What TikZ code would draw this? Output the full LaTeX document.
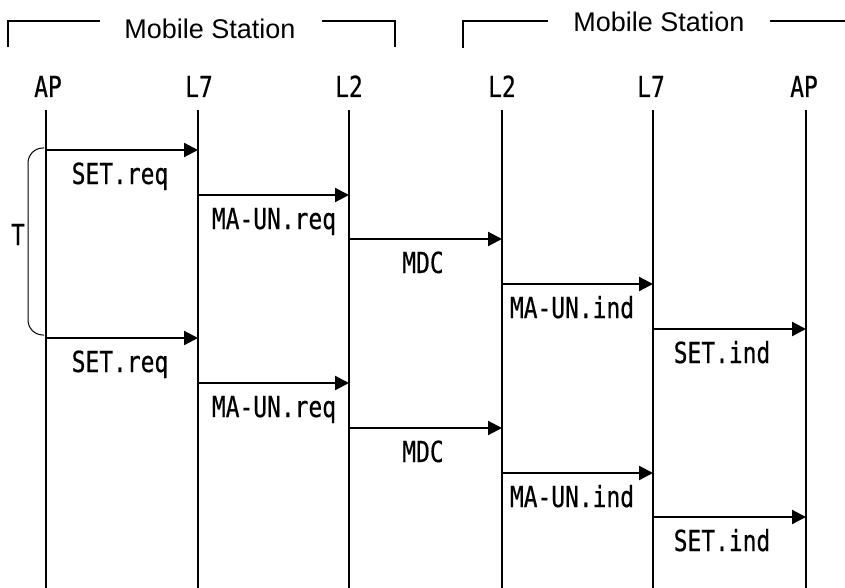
\documentclass[tikz,border=0pt]{standalone}
\usepackage{fontspec}
\setmainfont{Liberation Sans}
\newfontfamily\gothic[FakeStretch=0.79,FakeBold=0.5]{DejaVu Sans Mono}
\usetikzlibrary{arrows.meta}
\begin{document}
\begin{tikzpicture}[x=1pt,y=-1pt,
  lbl/.style={font=\gothic\fontsize{29}{29}\selectfont, inner sep=0pt, anchor=base},
  ttl/.style={font=\fontsize{27}{27}\selectfont, inner sep=0pt, anchor=base},
  life/.style={line width=1.8pt},
  msg/.style={line width=2.2pt, -{Triangle[length=14pt,width=14pt]}},
  frm/.style={line width=1.4pt},
  brc/.style={line width=1pt, rounded corners=15pt}]
\useasboundingbox (0,0) rectangle (845,588);
% header brackets
\node[ttl] (ms1) at (210,39) {Mobile Station};
\node[ttl] (ms2) at (659,32) {Mobile Station};
\coordinate (f1a) at (8,47); \coordinate (f1b) at (8,21); \coordinate (f1c) at (100,21);
\coordinate (f1d) at (322,21); \coordinate (f1e) at (395,21); \coordinate (f1f) at (395,47);
\draw[frm] (f1a) -- (f1b) -- (f1c);
\draw[frm] (f1d) -- (f1e) -- (f1f);
\coordinate (f2a) at (463,48); \coordinate (f2b) at (463,21); \coordinate (f2c) at (548,21);
\coordinate (f2d) at (770,21); \coordinate (f2e) at (845,21);
\draw[frm] (f2a) -- (f2b) -- (f2c);
\draw[frm] (f2d) -- (f2e);
% lifeline heads
\node[lbl] (h1) at (48,97) {AP};
\node[lbl] (h2) at (199,97) {L7};
\node[lbl] (h3) at (349,97) {L2};
\node[lbl] (h4) at (502,97) {L2};
\node[lbl] (h5) at (651,97) {L7};
\node[lbl] (h6) at (804,97) {AP};
% lifelines
\foreach \i/\x in {1/46,2/198,3/349,4/502,5/653,6/806}{
  \coordinate (t\i) at (\x,110);
  \coordinate (b\i) at (\x,588);
  \draw[life] (t\i) -- (b\i);
}
% messages
\foreach \y/\xa/\xb/\txt/\cx in {
  150/46/198/SET.req/120, 195/198/349/MA-UN.req/274, 239/349/502/MDC/423,
  284/502/653/MA-UN.ind/572, 329/653/806/SET.ind/722,
  338/46/198/SET.req/120, 383/198/349/MA-UN.req/274, 428/349/502/MDC/423,
  473/502/653/MA-UN.ind/572, 517/653/806/SET.ind/722}{
  \coordinate (ms) at (\xa,\y);
  \coordinate (me) at (\xb,\y);
  \draw[msg] (ms) -- (me);
  \node[lbl] (ml) at (\cx,\y+34) {\txt};
}
% period brace
\coordinate (ba) at (44,148); \coordinate (bb) at (28,148);
\coordinate (bc) at (28,335); \coordinate (bd) at (44,335);
\draw[brc] (ba) -- (bb) -- (bc) -- (bd);
\node[lbl] (T) at (18,245) {T};
\end{tikzpicture}
\end{document}
